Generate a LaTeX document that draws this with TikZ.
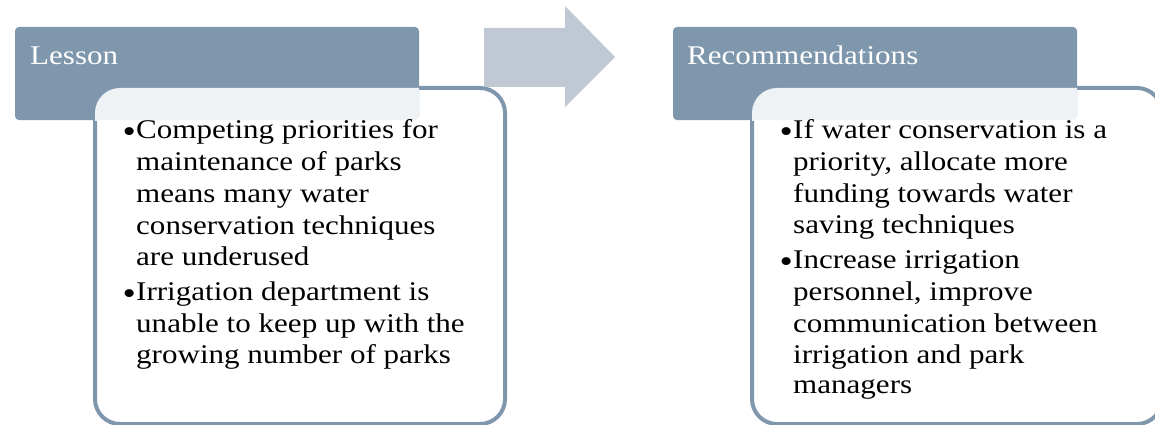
\documentclass[tikz,border=0pt]{standalone}
\usepackage{fontspec}
\setmainfont{Liberation Serif}[FakeStretch=1.15]
\definecolor{hdr}{RGB}{127,151,173}
\definecolor{arr}{RGB}{192,200,212}
\tikzset{
  hdrbox/.style={fill=hdr, rounded corners=4pt},
  bodybox/.style={draw=hdr, line width=4pt, fill=white, rounded corners=25pt},
  hdrtext/.style={anchor=base west, inner sep=0pt, text=white, font=\fontsize{27}{32}\selectfont},
  line/.style={anchor=base west, inner sep=0pt, font=\fontsize{27}{32}\selectfont},
  bul/.style={anchor=base east, inner sep=0pt, font=\fontsize{33}{32}\selectfont},
}
\begin{document}
\begin{tikzpicture}[x=1pt,y=-1pt]
\useasboundingbox (0,0) rectangle (1155,425);
\begin{scope}
\clip (0,0) rectangle (1155,425);
% left panel
\draw[bodybox] (95,88) rectangle (505,424);
\fill[hdrbox] (15,27) rectangle (419,120);
\begin{scope}
  \clip (15,27) rectangle (419,120);
  \fill[white, opacity=0.88, rounded corners=25pt] (95,88) rectangle (505,424);
\end{scope}
% right panel
\draw[bodybox] (752,88) rectangle (1162,424);
\fill[hdrbox] (673,27) rectangle (1077,120);
\begin{scope}
  \clip (673,27) rectangle (1077,120);
  \fill[white, opacity=0.88, rounded corners=25pt] (752,88) rectangle (1162,424);
\end{scope}
\end{scope}
% arrow
\fill[arr] (484,28) -- (565,28) -- (565,6) -- (615,57) -- (565,107) -- (565,87) -- (484,87) -- cycle;
% header texts
\node[hdrtext] (h1) at (30,65) {Lesson};
\node[hdrtext] (h2) at (687,65) {Recommendations};
% left text
\node[bul] (b1) at (136,142) {•};
\node[line] (l1) at (136,138) {Competing priorities for};
\node[line] (l2) at (136,170) {maintenance of parks};
\node[line] (l3) at (136,202) {means many water};
\node[line] (l4) at (136,234) {conservation techniques};
\node[line] (l5) at (136,265) {are underused};
\node[bul] (b2) at (136,304) {•};
\node[line] (l6) at (136,300) {Irrigation department is};
\node[line] (l7) at (136,332) {unable to keep up with the};
\node[line] (l8) at (136,363) {growing number of parks};
% right text
\node[bul] (c1) at (793,142) {•};
\node[line] (r1) at (793,138) {If water conservation is a};
\node[line] (r2) at (793,170) {priority, allocate more};
\node[line] (r3) at (793,202) {funding towards water};
\node[line] (r4) at (793,233) {saving techniques};
\node[bul] (c2) at (793,272) {•};
\node[line] (r5) at (793,268) {Increase irrigation};
\node[line] (r6) at (793,300) {personnel, improve};
\node[line] (r7) at (793,332) {communication between};
\node[line] (r8) at (793,363) {irrigation and park};
\node[line] (r9) at (793,393) {managers};
\end{tikzpicture}
\end{document}
